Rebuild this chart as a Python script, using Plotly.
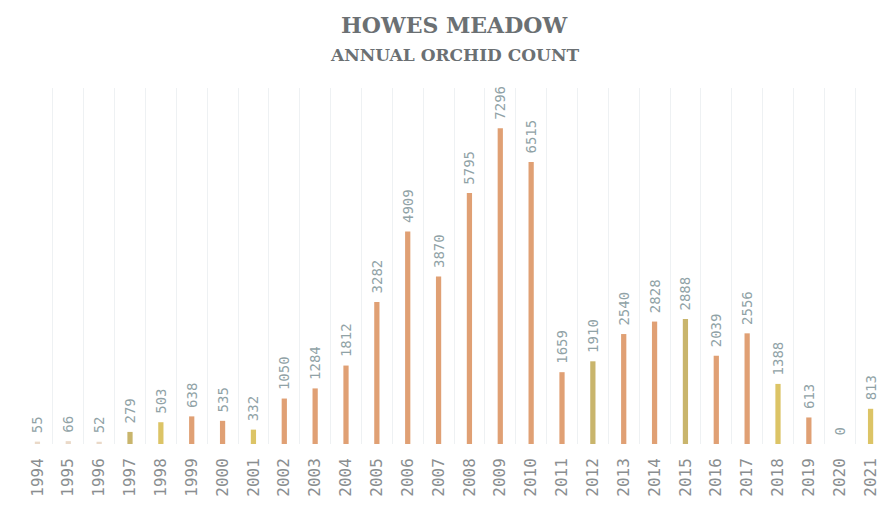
import plotly.graph_objects as go

years = list(range(1994, 2022))
counts = [55, 66, 52, 279, 503, 638, 535, 332, 1050, 1284, 1812, 3282, 4909, 3870,
          5795, 7296, 6515, 1659, 1910, 2540, 2828, 2888, 2039, 2556, 1388, 613, 0, 813]
tones = ["pale", "pale", "pale", "olive", "yellow", "orange", "orange", "yellow",
         "orange", "orange", "orange", "orange", "orange", "orange", "orange", "orange",
         "orange", "orange", "olive", "orange", "orange", "olive", "orange", "orange",
         "yellow", "orange", "orange", "yellow"]
palette = {"pale": "#ead9c8", "olive": "#c9b56c", "yellow": "#dcc466", "orange": "#e0a074"}
colors = [palette[t] for t in tones]

fig = go.Figure(go.Bar(
    x=years, y=counts,
    marker=dict(color=colors, line=dict(width=0)),
    width=0.17,
    text=["\u2009" + str(c) for c in counts],
    textposition="outside",
    textangle=-90,
    cliponaxis=False,
    textfont=dict(family="DejaVu Sans Mono", size=14, color="#90a2a6"),
))

fig.update_layout(
    width=878, height=505,
    margin=dict(l=14, r=0, t=80, b=69),
    paper_bgcolor="white", plot_bgcolor="white",
    showlegend=False,
    uniformtext=dict(minsize=14, mode="show"),
)
fig.add_annotation(text="<b>HOWES MEADOW</b>", xref="paper", yref="paper", x=0.5, y=1.0,
                   yanchor="middle", yshift=63, showarrow=False,
                   font=dict(family="DejaVu Serif", size=22, color="#6b7073"))
fig.add_annotation(text="<b>ANNUAL ORCHID COUNT</b>", xref="paper", yref="paper", x=0.5, y=1.0,
                   yanchor="middle", yshift=33, showarrow=False,
                   font=dict(family="DejaVu Serif", size=17, color="#6b7073"))

fig.update_xaxes(
    range=[1993.5, 2021.5],
    tickmode="array", tickvals=years, ticktext=[str(y) for y in years],
    tickangle=-90,
    tickfont=dict(family="DejaVu Sans Mono", size=16, color="#8a8e90"),
    ticklabelstandoff=10,
    showgrid=False, zeroline=False, showline=False, ticks="",
    minor=dict(tickvals=[y + 0.5 for y in years[:-1]], showgrid=True,
               gridcolor="#eef1f3", gridwidth=1),
)
fig.update_yaxes(range=[0, 8223], visible=False, showgrid=False)

fig.write_html("out.html")
